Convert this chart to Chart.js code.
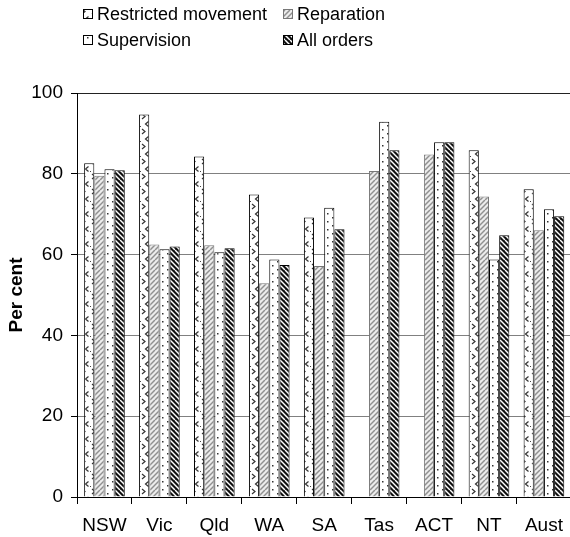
<!DOCTYPE html>
<html>
<head>
<meta charset="utf-8">
<script src="https://cdn.jsdelivr.net/npm/chart.js@4"></script>
<style>
  html, body { margin: 0; padding: 0; background: #fff; overflow: hidden; }
  #wrap { width: 570px; height: 537px; overflow: hidden; }
</style>
</head>
<body>
<div id="wrap"><canvas id="chart" width="573" height="537"></canvas></div>
<script>
const categories = ['NSW', 'Vic', 'Qld', 'WA', 'SA', 'Tas', 'ACT', 'NT', 'Aust'];
const restricted = [82.6, 94.7, 84.3, 74.9, 69.2, null, null, 85.8, 76.2];
const reparation = [79.5, 62.5, 62.3, 52.9, 57.2, 80.7, 84.8, 74.4, 66.0];
const supervision = [81.1, 61.3, 60.6, 58.8, 71.6, 92.9, 87.8, 58.8, 71.2];
const allOrders = [80.9, 62.0, 61.6, 57.4, 66.3, 85.8, 87.8, 64.8, 69.5];
const seriesNames = ['Restricted movement', 'Reparation', 'Supervision', 'All orders'];
const yTicks = [0, 20, 40, 60, 80, 100];

const font = 'Arial, "Liberation Sans", sans-serif';

function makeTile(w, h, draw) {
    let c = document.createElement('canvas');
    c.width = w;
    c.height = h;
    let g = c.getContext('2d');
    draw(g);
    return document.createElement('canvas').getContext('2d').createPattern(c, 'repeat');
}

// small chevrons on white
const restrictedFill = makeTile(10, 15, g => {
    g.fillStyle = '#fff';
    g.fillRect(0, 0, 10, 15);
    g.strokeStyle = '#333';
    g.lineWidth = 1.2;
    g.beginPath();
    g.moveTo(8.5, 1.5); g.lineTo(5.5, 4); g.lineTo(8.5, 6.5);
    g.stroke();
    g.beginPath();
    g.moveTo(2, 9); g.lineTo(5, 11.5); g.lineTo(2, 14);
    g.stroke();
    g.fillStyle = '#444';
    g.fillRect(0, 6, 1, 1);
});

// light grey "/" stripes
const reparationFill = makeTile(10, 10, g => {
    g.fillStyle = '#ececec';
    g.fillRect(0, 0, 10, 10);
    g.strokeStyle = '#909090';
    g.lineWidth = 1.5;
    for (let k = -2; k <= 3; k++) {
        g.beginPath();
        g.moveTo(k * 5, 10);
        g.lineTo(k * 5 + 10, 0);
        g.stroke();
    }
});

// dots on white
const supervisionFill = makeTile(10, 8, g => {
    g.fillStyle = '#fff';
    g.fillRect(0, 0, 10, 8);
    g.fillStyle = '#333';
    g.fillRect(2, 1, 1.5, 1.5);
    g.fillRect(7, 5, 1.5, 1.5);
});

// black with white "\" stripes
const allOrdersFill = makeTile(10, 10, g => {
    g.fillStyle = '#111';
    g.fillRect(0, 0, 10, 10);
    g.strokeStyle = '#fff';
    g.lineWidth = 1.5;
    for (let k = -2; k <= 3; k++) {
        g.beginPath();
        g.moveTo(k * 5, 0);
        g.lineTo(k * 5 + 10, 10);
        g.stroke();
    }
});

function dataset(i, data, fill, border) {
    return {
        label: seriesNames[i],
        data: data,
        backgroundColor: fill,
        borderColor: border,
        borderWidth: 1,
        borderSkipped: 'bottom',
        categoryPercentage: 0.74,
        barPercentage: 1.0
    };
}

// legend drawn in two fixed columns like the original
const gridLegend = {
    id: 'gridLegend',
    afterDraw(chart) {
        let ctx = chart.ctx;
        let cols = [83, 283];
        let rows = [14, 40];
        ctx.save();
        ctx.font = '18px ' + font;
        ctx.textBaseline = 'middle';
        ctx.textAlign = 'left';
        chart.data.datasets.forEach((ds, i) => {
            let x = cols[i % 2];
            let y = rows[Math.floor(i / 2)];
            ctx.fillStyle = ds.backgroundColor;
            ctx.fillRect(x, y - 5, 10, 10);
            ctx.strokeStyle = ds.borderColor;
            ctx.lineWidth = 1;
            ctx.strokeRect(x + 0.5, y - 4.5, 9, 9);
            ctx.fillStyle = '#000';
            ctx.fillText(ds.label, x + 14, y + 1);
        });
        ctx.restore();
    }
};

let ctx = document.getElementById('chart').getContext('2d');
new Chart(ctx, {
    type: 'bar',
    data: {
        labels: categories,
        datasets: [
            dataset(0, restricted, restrictedFill, '#000'),
            dataset(1, reparation, reparationFill, '#777'),
            dataset(2, supervision, supervisionFill, '#000'),
            dataset(3, allOrders, allOrdersFill, '#000')
        ]
    },
    options: {
        responsive: false,
        animation: false,
        layout: { padding: { top: 93, right: 1, bottom: 0, left: 0 } },
        plugins: {
            legend: { display: false },
            tooltip: { enabled: false }
        },
        scales: {
            x: {
                afterFit(scale) { scale.height = 40; },
                grid: {
                    offset: true,
                    drawOnChartArea: false,
                    tickLength: 7,
                    tickColor: '#000'
                },
                border: { color: '#000', width: 1 },
                ticks: {
                    color: '#000',
                    padding: 10,
                    font: { family: font, size: 19 }
                }
            },
            y: {
                min: 0,
                max: 100,
                afterFit(scale) { scale.width = 77; },
                afterBuildTicks(scale) {
                    scale.ticks = yTicks.map(v => ({ value: v }));
                },
                grid: {
                    color: c => c.tick && c.tick.value === 100 ? '#222' : '#808080',
                    tickLength: 6,
                    tickColor: '#000'
                },
                border: { color: '#000', width: 1 },
                ticks: {
                    color: '#000',
                    padding: 8,
                    font: { family: font, size: 19 }
                },
                title: {
                    display: true,
                    text: 'Per cent',
                    color: '#000',
                    padding: { top: 5, bottom: 0 },
                    font: { family: font, size: 19, weight: 'bold' }
                }
            }
        }
    },
    plugins: [gridLegend]
});
</script>
</body>
</html>
